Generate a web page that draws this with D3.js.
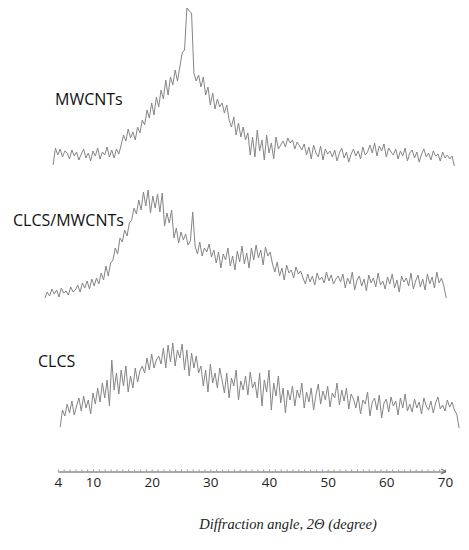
<!DOCTYPE html>
<html>
<head>
<meta charset="utf-8">
<script src="https://cdn.jsdelivr.net/npm/d3@7"></script>
<style>
  body { margin: 0; background: #fff; }
</style>
</head>
<body>
<div id="xrd"></div>
<script>
// XRD patterns, intensity in a.u. above each trace's own baseline, one point every 0.4 deg
const step = 0.4;

const mwcntStart = 3.2;
const mwcntValues = [0,
  17, 10, 16, 8, 14, 12, 6, 15, 9, 13, 5, 11, 16, 7, 12, 4, 14, 9, 17, 6, 13, 10, 18, 8, 15, 7, 16, 11, 20,
  30, 24, 36, 27, 33, 25, 38, 32,
  45, 40, 55, 47, 62, 50,
  68, 58, 75, 66, 85, 70, 88,
  80, 95, 84, 98,
  112, 115,
  157, 154, 152,
  92,
  84, 90, 78, 88,
  70, 78, 60, 72, 56, 66,
  58, 62, 52, 60,
  45, 38, 48, 30, 42, 28, 38, 25,
  32, 10, 28, 8, 35, 14, 25, 5, 30, 12, 22, 6, 28, 16, 20,
  24, 18, 27, 22, 25, 16, 23, 19,
  15, 21, 10, 18, 6, 20, 12, 8, 19, 5, 16, 11, 14,
  8, 15, 4, 12, 17, 7, 13, 3, 11, 16, 9, 14, 6, 18, 10, 13,
  20, 12, 22, 9, 19, 14, 21, 8, 17, 13,
  10, 16, 6, 14, 9, 17, 4, 12, 15, 7, 13, 3, 11, 16, 8, 12, 5, 14, 9, 11, 4, 13, 7, 10, 6, 9,
  -1];

const compStart = 1.8;
const compValues = [0,
  6, 2, 9, 4, 8, 1, 10, 5, 7, 3, 11, 6,
  8, 13, 6, 15, 10, 17, 9, 19, 12, 20,
  14, 25, 18, 32, 22, 35,
  38, 50, 44, 60,
  56, 68, 62, 75,
  78, 90, 84, 98,
  88, 106, 92, 108, 85, 102, 90, 104, 86, 105,
  72, 85, 75, 88,
  60, 70, 55, 66, 58, 64, 53, 57,
  86,
  52, 44, 56, 42, 50, 46, 54, 41,
  48, 35, 46, 30, 44, 38, 50, 32, 42, 28, 47, 36, 52, 34, 45, 30,
  50, 38, 53, 40, 48, 33, 51, 42, 46,
  34, 26, 36, 22, 30, 18, 33, 25, 28, 20, 31, 24, 27,
  20, 14, 24, 16, 22, 13, 25, 18, 21, 15, 26, 17, 23, 14, 19, 22,
  16, 24, 10, 20, 14, 26, 8, 18, 22, 12, 19, 7, 23, 15, 20, 11, 25, 13, 17, 9,
  21, 14, 24, 10, 18, 6, 22, 16, 20, 12, 25, 9, 17, 23, 11, 19, 8, 24, 14, 21, 10, 26, 15, 20, 12,
  0];

const clcsStart = 4.4;
const clcsValues = [1,
  18, 12, 24, 15, 27, 13, 22, 30, 17, 32, 20, 28, 14, 35, 24,
  40, 26, 45, 30, 48, 22, 68,
  38, 55, 34, 58, 42, 62, 36, 52, 40, 60, 46, 57,
  62, 55, 70, 58, 74, 60, 68, 72,
  64, 80, 60, 83, 66, 85, 62, 78, 70, 84,
  58, 78, 52, 75, 60, 72, 55,
  62, 42, 58, 36, 64, 45, 55, 40, 60, 48,
  35, 55, 30, 50, 42, 58, 28, 47, 38, 52, 33, 56, 40, 46,
  30, 55, 22, 48, 36, 58, 18, 45, 32, 52, 25, 40, 15, 38,
  28, 42, 22, 38, 30, 45, 20, 36, 26, 40, 18, 33, 44, 24, 37, 28, 42, 21, 35, 30, 45, 23, 38, 27, 40, 19, 34, 29,
  20, 32, 14, 28, 24, 36, 12, 26, 30, 18, 33, 10, 25, 29, 16, 31, 22, 27, 13, 30, 20, 34, 17,
  24, 16, 29, 20, 26, 14, 30, 22, 18, 27, 15, 25, 31, 19, 23, 17, 28, 21, 26, 18, 14,
  0];

// vertical stacking offsets (a.u.)
const offsets = [385, 252, 122];
const names = ["MWCNTs", "CLCS/MWCNTs", "CLCS"];
const starts = [mwcntStart, compStart, clcsStart];
const seriesValues = [mwcntValues, compValues, clcsValues];

const majorTicks = [4, 10, 20, 30, 40, 50, 60, 70];

let width = 469, height = 550;

let svg = d3.select('#xrd')
  .append('svg')
  .attr('width', width)
  .attr('height', height);

let xScale = d3.scaleLinear()
  .domain([4, 70])
  .range([57.8, 445]);

let yScale = d3.scaleLinear()
  .domain([0, 550])
  .range([550, 0]);

const axisY = 471.5;

// minor ticks every degree, pointing up
let minorAxis = svg.append('g')
  .attr('transform', `translate(0,${axisY})`)
  .call(d3.axisBottom(xScale).tickValues(d3.range(4, 71)).tickSize(-2).tickSizeOuter(0).tickFormat(''));
minorAxis.select('.domain').attr('stroke', '#555').attr('stroke-width', 1);
minorAxis.selectAll('.tick line').attr('stroke', '#999');

let majorAxis = svg.append('g')
  .attr('transform', `translate(0,${axisY})`)
  .call(d3.axisBottom(xScale).tickValues(majorTicks).tickSize(0).tickPadding(6));
majorAxis.select('.domain').remove();
majorAxis.selectAll('text')
  .attr('font-family', 'Open Sans, sans-serif')
  .attr('font-size', 13.5)
  .attr('fill', '#222');

// small arrow head at the end of the axis
svg.append('path')
  .attr('d', `M${xScale(70) - 4},${axisY - 2.5}L${xScale(70) + 1},${axisY}L${xScale(70) - 4},${axisY + 2.5}`)
  .attr('fill', 'none')
  .attr('stroke', '#555')
  .attr('stroke-width', 1);

// traces
seriesValues.forEach((vals, k) => {
  let pts = vals.map((v, i) => ({ angle: starts[k] + i * step, value: v }));
  let line = d3.line()
    .x(d => xScale(d.angle))
    .y(d => yScale(d.value + offsets[k]));
  svg.append('path')
    .datum(pts)
    .attr('d', line)
    .attr('fill', 'none')
    .attr('stroke', '#858585')
    .attr('stroke-width', 1)
    .attr('stroke-linejoin', 'round');
});

// trace labels
const labelPos = [[55, 105], [13, 226], [38, 367]];
names.forEach((n, k) => {
  svg.append('text')
    .text(n)
    .attr('x', labelPos[k][0])
    .attr('y', labelPos[k][1])
    .attr('font-family', 'Open Sans, sans-serif')
    .attr('font-size', 16)
    .attr('fill', '#111');
});

// x-axis title
svg.append('text')
  .text('Diffraction angle, 2Θ (degree)')
  .attr('x', 288)
  .attr('y', 529)
  .attr('text-anchor', 'middle')
  .attr('font-family', 'Liberation Serif, serif')
  .attr('font-style', 'italic')
  .attr('font-size', 14.5)
  .attr('fill', '#222');
</script>
</body>
</html>
